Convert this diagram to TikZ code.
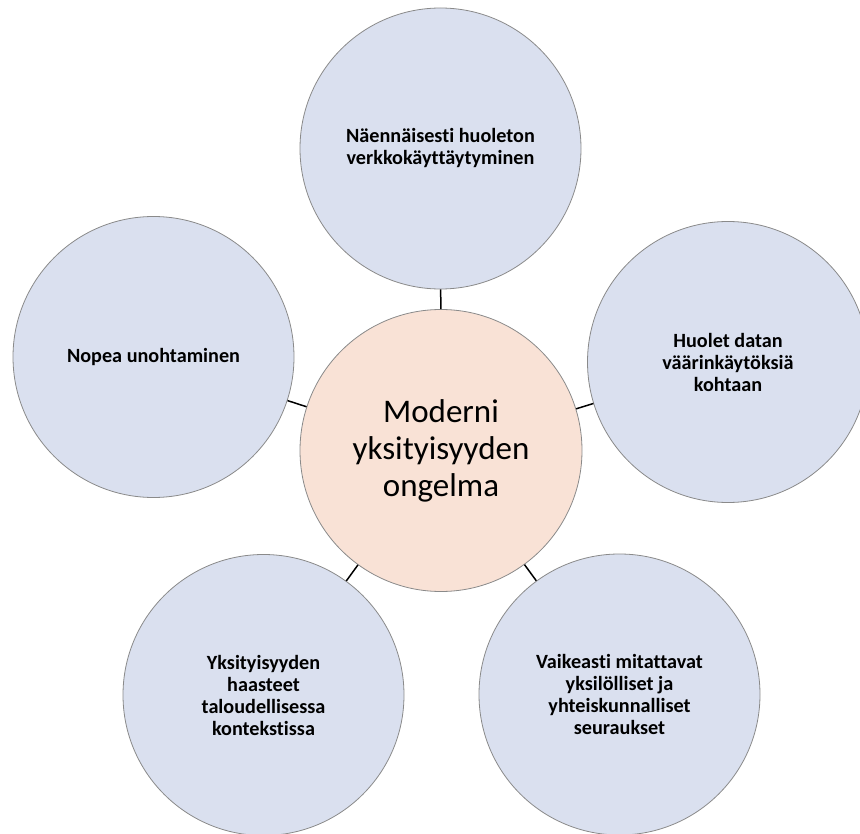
\documentclass[tikz,border=0pt]{standalone}
\usepackage{fontspec}
\setmainfont{Carlito}[Ligatures=NoCommon]
\definecolor{satfill}{HTML}{DAE0EF}
\definecolor{cenfill}{HTML}{F9E2D6}
\definecolor{ringline}{HTML}{8A8A8A}
\tikzset{
  sat/.style={circle, draw=ringline, line width=0.8pt, fill=satfill, minimum size=281pt, inner sep=0pt, align=center, text=black,
    font=\bfseries\fontsize{20.2}{22}\selectfont},
  cen/.style={circle, draw=ringline, line width=0.8pt, fill=cenfill, minimum size=282pt, inner sep=0pt, align=center, text=black,
    font=\fontsize{33}{37}\selectfont},
  link/.style={draw=black, line width=1.5pt}
}
\begin{document}
\begin{tikzpicture}[x=1pt,y=-1pt]
\useasboundingbox (0,0) rectangle (860,834);
\clip (0,0) rectangle (860,834);
\node[cen] (c) at (441,450.5) {Moderni\\yksityisyyden\\ongelma};
\node[sat] (t) at (440.5,148.5) {Näennäisesti huoleton\\verkkokäyttäytyminen};
\node[sat] (l) at (153.5,357) {Nopea unohtaminen};
\node[sat] (r) at (728,362) {Huolet datan\\väärinkäytöksiä\\kohtaan};
\node[sat] (bl) at (263.5,695) {Yksityisyyden\\haasteet\\taloudellisessa\\kontekstissa};
\node[sat] (br) at (619.5,694.5) {Vaikeasti mitattavat\\yksilölliset ja\\yhteiskunnalliset\\seuraukset};
\draw[link] (c) -- (t);
\draw[link] (c) -- (l);
\draw[link] (c) -- (r);
\draw[link] (c) -- (bl);
\draw[link] (c) -- (br);
\end{tikzpicture}
\end{document}
